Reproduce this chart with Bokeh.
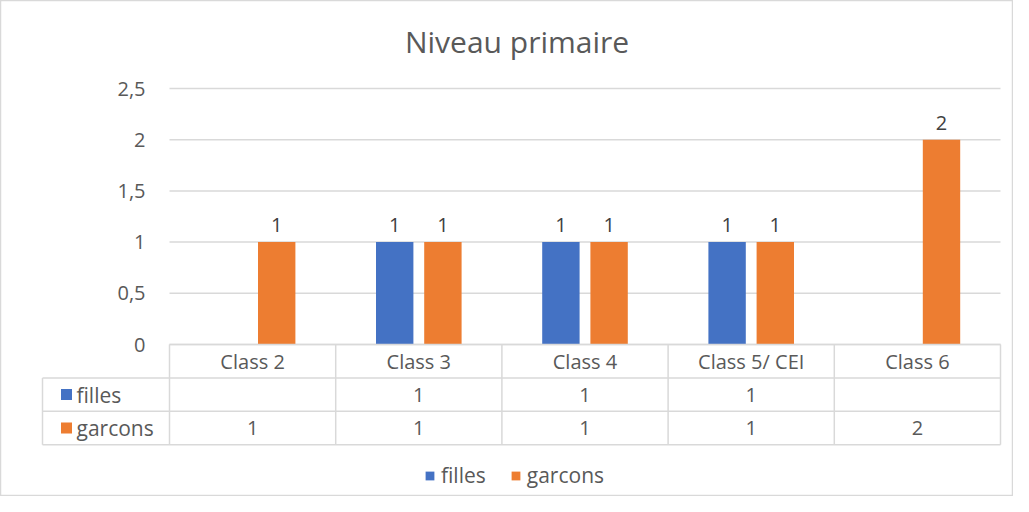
import numpy as np
from bokeh.plotting import figure
from bokeh.models import Range1d, ColumnDataSource, Label, Legend, LegendItem
from bokeh.core.properties import value
from bokeh.embed import file_html
from bokeh.resources import INLINE

# ---- data ----
categories = ["Class 2", "Class 3", "Class 4", "Class 5/ CEI", "Class 6"]
filles = [None, 1, 1, 1, None]
garcons = [1, 1, 1, 1, 2]
series_names = ["filles", "garcons"]
series_colors = ["#4472C4", "#ED7D31"]
y_ticks = [0, 0.5, 1, 1.5, 2, 2.5]
y_tick_labels = ["0", "0,5", "1", "1,5", "2", "2,5"]
title_text = "Niveau primaire"

# ---- layout constants (pixels) ----
W, H = 1013, 496
FONT = "Open Sans"
TXT = "#595959"
LINE = "#d9d9d9"
FS = "20px"
frame_left = 169.0          # canvas x of category 0 left edge
px_x = 166.2                # px per category
x0 = -frame_left / px_x
x1 = len(categories) + (W - (frame_left + px_x * len(categories))) / px_x
y_zero = 344.0              # canvas y of value 0
px_y = 102.4                # px per unit value
y1 = y_zero / px_y
y0 = -(H - y_zero) / px_y
row_h = 33.4 / px_y
table_left = x0 + 42 / px_x

p = figure(width=W, height=H, x_range=Range1d(x0, x1), y_range=Range1d(y0, y1),
           output_backend="svg", toolbar_location=None, min_border=0,
           x_axis_type=None, y_axis_type=None)
p.grid.visible = False
p.outline_line_color = LINE
p.outline_line_width = 1.5
p.background_fill_color = "white"
p.border_fill_color = "white"

n = len(categories)
centers = np.arange(n) + 0.5
offset = 0.145
bw = 0.225

# gridlines
p.segment(x0=[0] * len(y_ticks), x1=[n] * len(y_ticks), y0=y_ticks, y1=y_ticks,
          line_color=LINE, line_width=1.5)
# tick labels
p.text(x=[-24 / px_x] * len(y_ticks), y=y_ticks, text=y_tick_labels,
       text_align="right", text_baseline="middle", text_font=value(FONT),
       text_font_size=FS, text_color=TXT)

renderers = []
for si, (vals, col) in enumerate(zip([filles, garcons], series_colors)):
    xs, ys = [], []
    for i, v in enumerate(vals):
        if v is not None:
            xs.append(centers[i] + (-offset if si == 0 else offset))
            ys.append(v)
    src = ColumnDataSource(dict(x=xs, top=ys, lab=[str(v).replace(".", ",") for v in ys]))
    r = p.vbar(x="x", top="top", bottom=0, width=bw, source=src, fill_color=col, line_color=None)
    renderers.append(r)
    p.text(x="x", y="top", text="lab", source=src, y_offset=-10, text_align="center",
           text_baseline="bottom", text_font=value(FONT), text_font_size=FS, text_color="#404040")

# ---- data table ----
hx0 = [0, table_left, table_left, table_left]
hx1 = [n, n, n, n]
hy = [0, -row_h, -2 * row_h, -3 * row_h]
p.segment(x0=hx0, x1=hx1, y0=hy, y1=hy, line_color=LINE, line_width=1.5)
vx = list(range(n + 1))
p.segment(x0=vx, x1=vx, y0=[0] * len(vx), y1=[-3 * row_h] * len(vx), line_color=LINE, line_width=1.5)
p.segment(x0=[table_left], x1=[table_left], y0=[-row_h], y1=[-3 * row_h], line_color=LINE, line_width=1.5)

p.text(x=centers, y=[-0.5 * row_h] * n, text=categories, text_align="center",
       text_baseline="middle", text_font=value(FONT), text_font_size=FS, text_color=TXT)
for si, vals in enumerate([filles, garcons]):
    yrow = -(si + 1.5) * row_h
    xs = [centers[i] for i, v in enumerate(vals) if v is not None]
    ts = [str(v) for v in vals if v is not None]
    p.text(x=xs, y=[yrow] * len(xs), text=ts, text_align="center", text_baseline="middle",
           text_font=value(FONT), text_font_size=FS, text_color=TXT)
    p.scatter(x=[table_left + 24 / px_x], y=[yrow], marker="square", size=11,
              fill_color=series_colors[si], line_color=None)
    p.text(x=[table_left + 34 / px_x], y=[yrow], text=[series_names[si]], text_align="left",
           text_baseline="middle", text_font=value(FONT), text_font_size="21px", text_color=TXT)

# title
p.add_layout(Label(x=W / 2 + 10, y=H - 41, x_units="screen", y_units="screen", text=title_text,
                   text_align="center", text_baseline="middle", text_font=FONT,
                   text_font_size="30px", text_color=TXT))

legend = Legend(items=[LegendItem(label=series_names[i], renderers=[renderers[i]]) for i in range(2)],
                orientation="horizontal", location=(424, 7), padding=0, margin=0,
                glyph_width=11, glyph_height=11, label_standoff=6, spacing=24,
                label_text_font=FONT, label_text_font_size="21px", label_text_color=TXT,
                border_line_color=None, background_fill_alpha=0)
p.add_layout(legend)

open("out.html", "w").write(file_html(p, INLINE))
